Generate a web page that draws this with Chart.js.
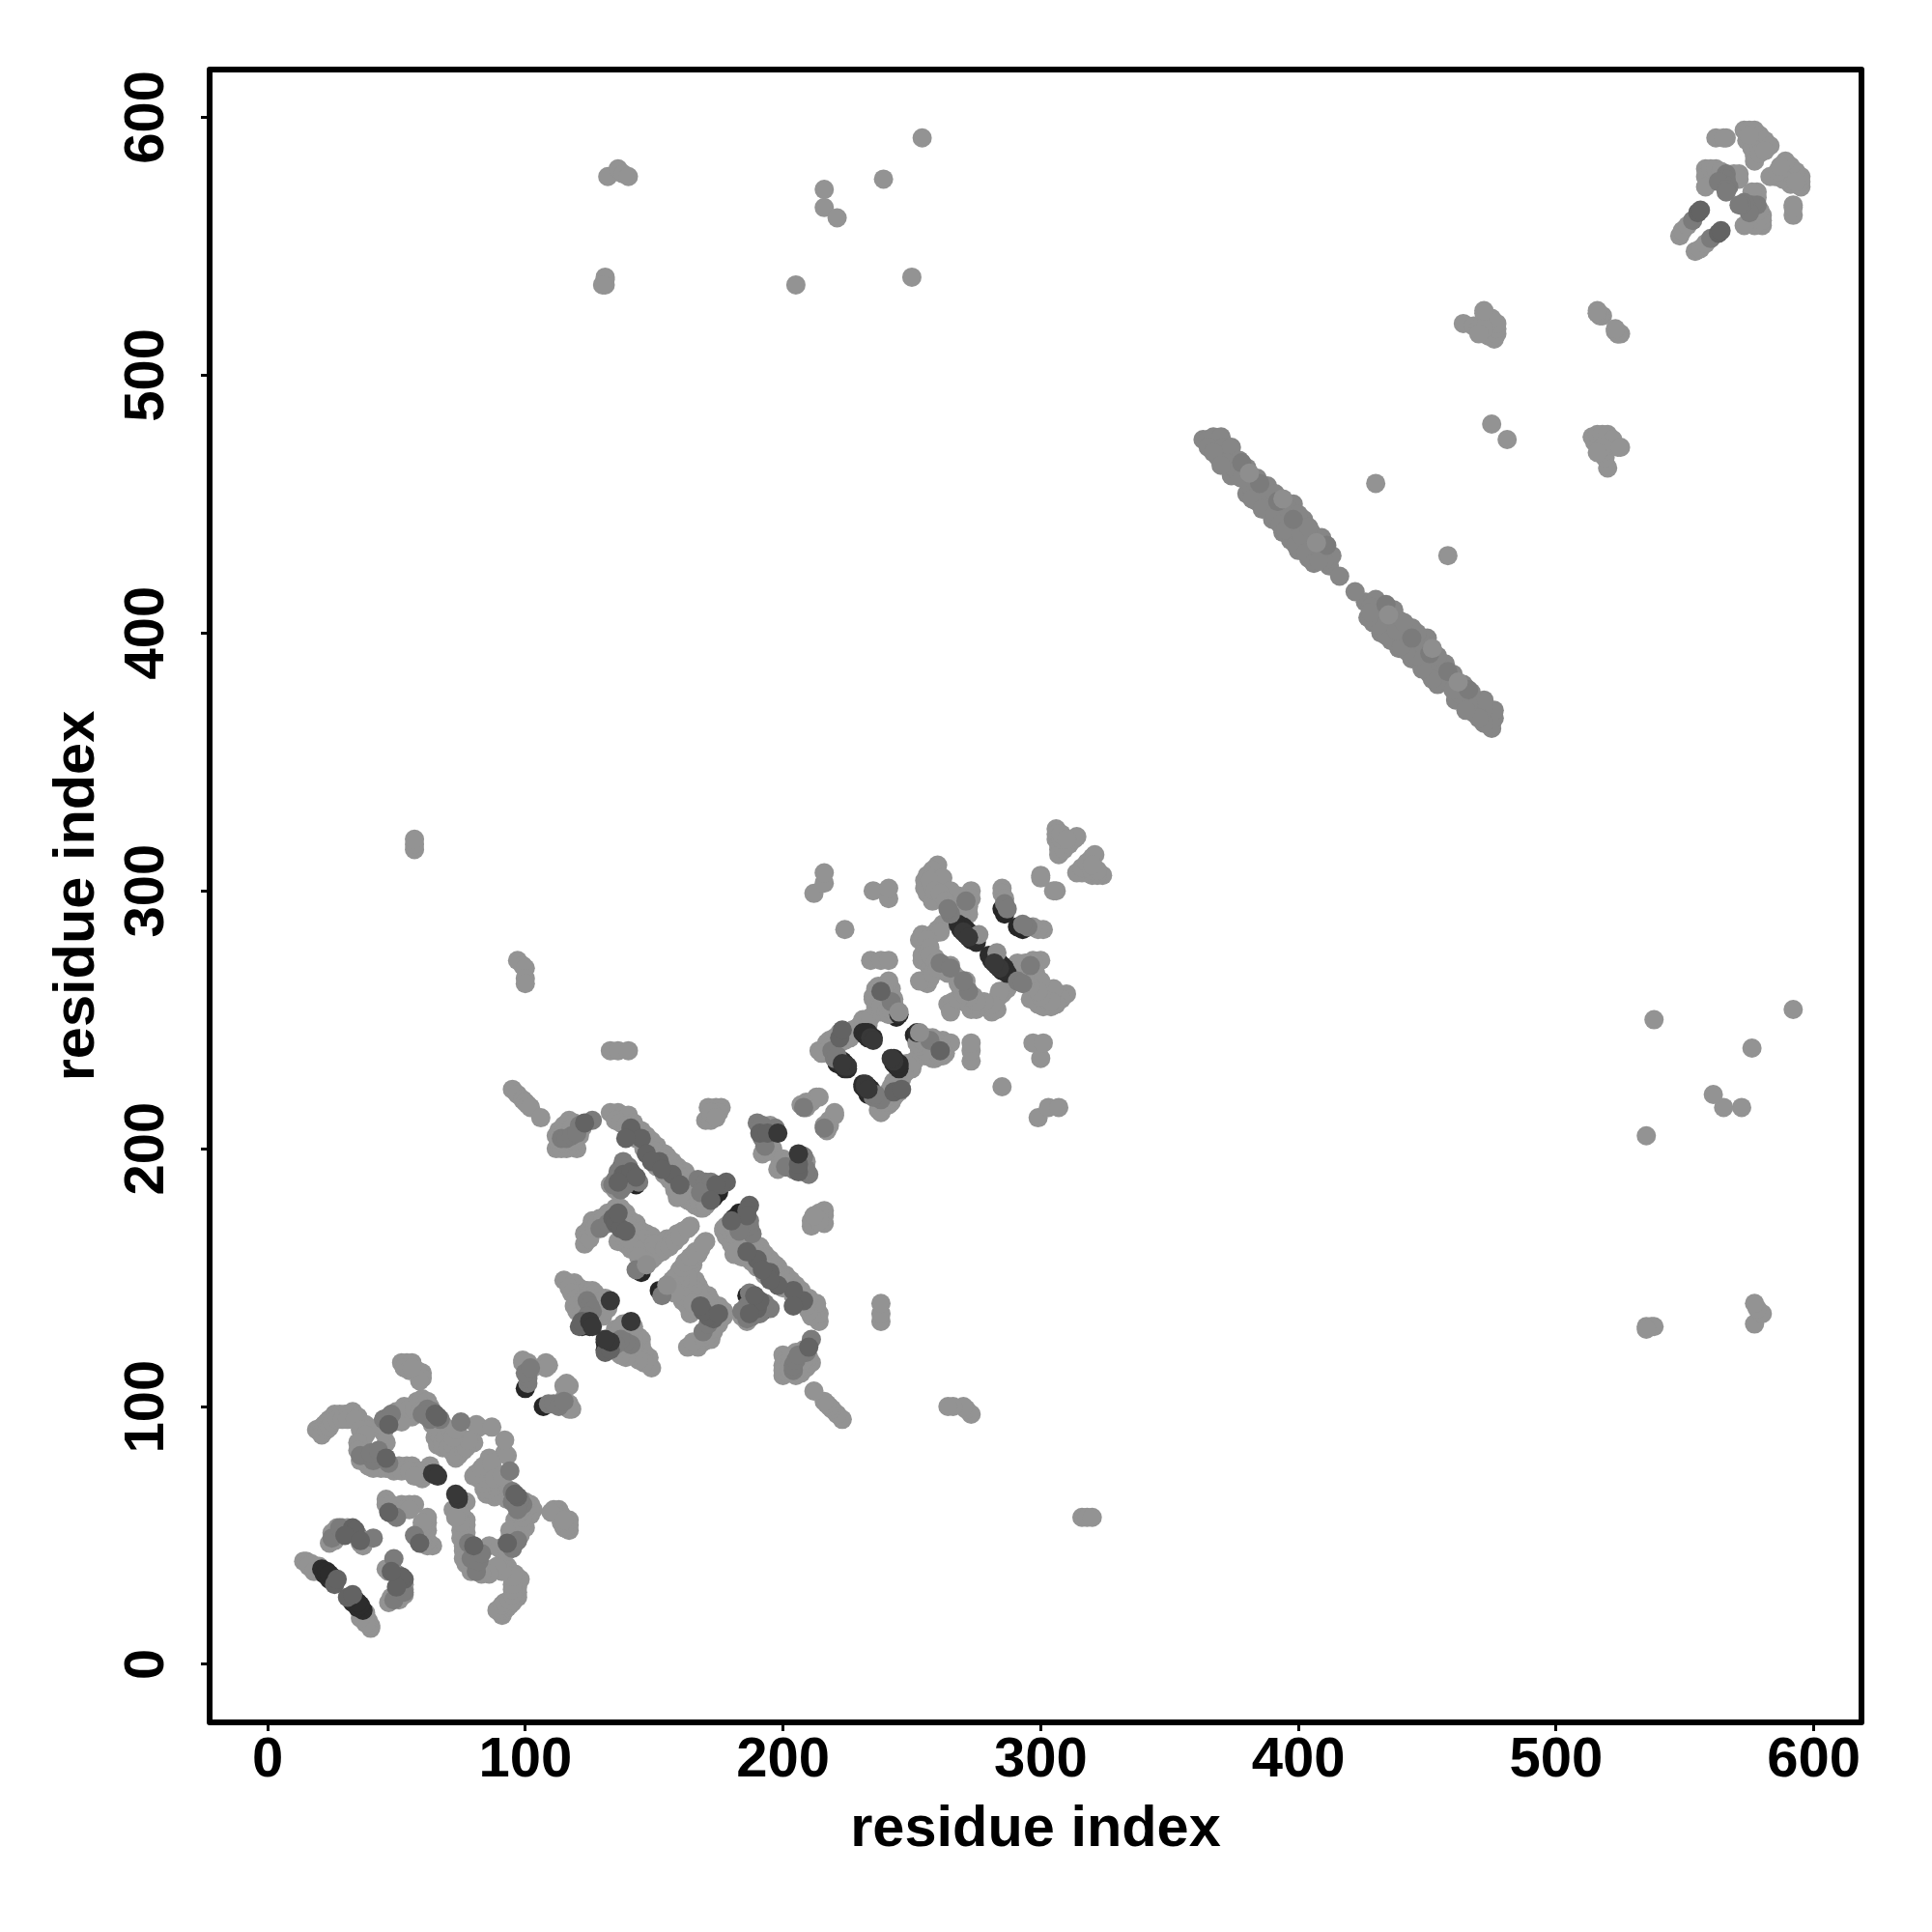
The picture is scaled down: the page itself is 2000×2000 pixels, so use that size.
<!DOCTYPE html>
<html><head><meta charset="utf-8">
<style>html,body{margin:0;padding:0;background:#fff}canvas{display:block}</style>
<script src="https://cdn.jsdelivr.net/npm/chart.js@4"></script></head>
<body><canvas id="c" width="2000" height="2000"></canvas>
<script>
const axisTicks=[0,100,200,300,400,500,600];
const axisTitle="residue index";
// Contacts as [i,j] with i<j. The map is symmetric, so each is drawn at (i,j) and (j,i).
const contactsDarkUnder=[[33,51],[35,50],[100,107],[122,131],[125,131],[145,152],[172,184],[173,185],[172,182],[173,181],[175,183],[192,205],[193,203],[193,201],[221,233],[243,252],[244,251],[285,293],[286,291],[140,190],[137,192],[143,186]];
const contactsLight=[[14,40],[15,40],[16,39],[17,39],[18,38],[19,38],[20,38],[16,38],[18,36],[24,47],[25,51],[27,53],[29,53],[31,53],[32,52],[35,50],[37,48],[37,46],[36,47],[26,50],[27,51],[30,51],[26,48],[28,50],
[46,64],[46,62],[47,60],[48,62],[50,61],[52,62],[55,62],[57,62],[49,58],[51,59],[48,60],[53,60],[55,60],
[19,91],[20,91],[21,92],[22,93],[23,94],[24,95],[26,97],[28,97],[30,97],[33,98],[35,96],[36,94],[38,93],[39,91],[37,88],[37,85],[37,83],[38,81],[40,79],[42,77],[44,76],[46,76],[48,77],[51,77],[54,77],[56,77],[58,75],[60,74],[46,86],[50,98],[51,95],[54,97],[56,96],[58,102],[60,103],[62,102],[63,100],[68,93],[69,91],[70,90],[65,88],[66,85],[68,84],[71,86],[72,82],[74,83],[75,85],[73,80],[81,93],[82,92],[87,92],[80,86],[75,88],[63,77],[60,72],[62,74],[59,75],
[21,89],[23,91],[24,92],[25,94],[27,95],[29,95],[31,95],[34,95],[36,91],[38,89],[35,86],[36,79],[35,83],[39,77],[41,76],[43,78],[45,78],[49,75],[52,75],[55,75],[57,73],[45,90],[44,93],[47,96],[49,94],[52,94],[53,100],[55,99],[57,99],[59,98],[61,99],[62,96],[64,93],[65,92],[66,90],[67,88],[68,86],[69,88],[71,91],[70,84],[72,85],[74,81],[76,83],[77,85],[77,84],[78,87],[72,88],[73,91],
[52,117],[54,117],[56,117],[53,115],[55,114],[58,114],[60,113],[60,111],[59,110],[56,115],
[99,117],[100,117],[101,117],[103,115],[108,117],[108,115],[109,116],[99,118],
[95,223],[97,221],[99,219],[100,218],[101,217],[102,216],[106,212],
[112,200],[113,202],[112,205],[113,207],[115,209],[117,211],[119,210],[120,200],[118,201],[116,200],[121,205],[114,200],[115,202],[117,203],[119,203],[115,206],[118,208],[122,208],
[133,214],[136,214],[138,213],[140,213],[142,210],[143,208],[145,207],[147,205],[149,203],[151,201],[152,199],[154,198],[155,197],[157,195],[159,193],[160,192],[162,191],[163,189],[165,187],[167,185],[141,206],[143,204],[146,200],[148,199],[150,196],[151,193],[154,190],[156,188],[158,184],[159,181],[161,183],[163,180],[165,179],[166,178],[168,177],[162,185],[164,183],[169,177],[167,180],[170,178],[135,184],[133,186],
[135,211],[137,210],[139,209],[140,207],[142,205],[144,206],[146,203],[147,201],[149,200],[150,199],[152,197],[153,196],[155,193],[156,194],[158,192],[160,189],[161,187],[163,186],[165,184],[166,182],[167,183],[169,181],[157,187],[159,185],[160,182],
[123,163],[123,167],[125,169],[126,172],[129,173],[132,175],[135,177],[137,177],[139,175],[141,172],[143,171],[145,168],[147,167],[149,166],[139,163],[136,164],[142,165],[144,164],[146,162],[148,160],[151,161],[153,163],[155,165],[157,165],[159,167],[161,168],[164,170],[147,155],[149,157],[151,159],[153,160],
[125,165],[127,169],[128,171],[130,172],[133,172],[136,172],[138,172],[140,170],[142,168],[144,167],[146,165],[148,163],[150,163],[145,159],[147,158],[149,160],[150,158],[154,161],[156,162],[158,164],[160,166],[163,169],[141,161],[143,161],[138,166],[140,165],[146,155],[146,157],[144,158],
[115,149],[119,148],[121,146],[122,144],[124,145],[126,145],[127,144],[121,141],[122,139],[121,136],[128,141],[129,139],[126,142],[127,136],[130,135],[128,137],[130,141],[131,142],[132,138],[130,137],[126,136],[117,146],[118,144],[120,142],[123,142],[119,139],[120,137],[122,136],
[171,216],[174,216],[176,216],[170,211],[172,211],[175,214],[173,213],[172,214],[174,212],[133,238],[136,238],[140,238],
[195,209],[192,198],[193,199],[195,199],[196,200],[195,202],
[207,217],[209,218],[211,218],[213,220],[214,220],[209,216],
[214,238],[216,239],[217,241],[218,242],[220,243],[222,245],[224,245],[226,243],[230,248],[231,250],[232,247],[229,245],[215,237],[218,239],[220,240],[222,241],[224,242],[227,246],[229,247],[231,247],[233,248],
[235,259],[236,262],[237,263],[240,263],[241,264],[242,262],[238,257],[240,258],[241,260],[243,258],[239,259],[234,251],[236,255],[240,255],[241,265],[235,258],[230,245],[238,253],[236,258],[237,260],[239,262],[238,255],[240,253],[241,252],[242,254],[243,256],
[260,310],[258,308],[256,306],[255,304],[255,301],[256,299],[258,302],[260,304],[262,301],[264,298],[266,296],[268,294],[270,292],[273,300],[273,297],[272,294],[272,291],[266,291],[267,288],[268,290],[254,283],[253,281],[255,279],[254,275],[254,273],[256,272],[257,270],[256,264],[257,266],[259,274],[263,271],[265,271],[266,268],[258,283],[260,285],[262,287],[261,284],[254,282],[253,265],[262,305],[268,298],[265,300],[258,296],[285,301],[285,299],[286,297],
[257,304],[259,300],[261,299],[263,296],[265,294],[267,293],[269,290],[256,281],[257,278],[257,275],[259,272],[262,269],[258,268],[260,270],[264,268],
[306,324],[306,322],[306,320],[307,318],[307,316],[307,314],[309,316],[311,318],[313,320],[314,321],[300,306],[300,305],[308,320],[308,322],[310,320],
[212,299],[216,303],[216,307],[224,285],[235,300],[241,297],[241,301],[234,273],[238,273],[241,273],[57,316],[57,318],[57,320],[97,273],[99,271],[100,270],[100,266],[100,264],
[131,535],[131,537],[131,538],[130,535],[205,535],[250,538],[132,577],[136,580],[138,578],[140,577],[216,572],[216,565],[221,561],[239,576],[254,592],
[464,520],[468,519],[470,518],[472,524],[473,520],[474,515],[476,514],[477,516],[477,518],[477,520],[475,522],[472,518],[470,516],[472,525],[516,524],[518,523],[523,517],[524,516],[525,516],[430,458],[475,481],
[562,592],[566,592],[573,595],[575,595],[577,595],[579,593],[581,591],[583,589],[574,591],[576,588],[577,585],[577,583],[579,586],[581,587],[558,580],[558,577],[558,573],[560,580],[562,580],[564,579],[569,578],[571,578],[571,576],[548,554],[549,556],[551,558],[565,592],[575,593]];
const contactsBand=[[363,475],[365,475],[367,476],[370,476],[365,472],[369,468],[371,472],[374,472],[377,467],[374,461],[375,464],[380,464],[380,454],[379,460],[384,460],[384,451],[382,456],[388,457],[386,454],[391,454],[390,444],[389,448],[394,450],[398,450],[397,446],[394,439],[392,444],[397,436],[399,441],[402,444],[405,439],[400,432],[404,429],[403,435],[409,437],[407,431],[412,426],[413,430],[410,428],[416,422],
[372,466],[376,463],[378,460],[382,452],[386,448],[391,446],[393,442],[395,440],[399,434],[401,438],[403,431],[406,427],[408,428],[396,448],[400,446],[404,441],[367,470],[370,465]];
const contactsDarkMain=[[21,37],[22,36],[23,35],[24,34],[25,33],[22,35],[23,36],[24,33],[25,34],[26,33],[24,35],[26,32],[222,233],[223,232],[224,231],[222,234],[223,234],[224,233],[225,231],[231,245],[232,244],[233,243],[232,245],[233,245],[235,243],[245,252],[268,287],[269,286],[270,285],[271,284],[272,283],[273,282],[274,281],[275,280],[270,286],[271,285],[272,284],[273,283],[274,282],[269,285],[271,283],[273,281]];
const contactsMid=[[41,49],[25,49],[28,53],[50,57],[36,81],[41,79],[40,82],[45,95],[48,97],[67,95],[75,94],[47,78],[62,99],[64,98],[63,95],[60,97],[43,83],[101,109],[101,111],[100,113],[102,115],[114,204],[116,204],[118,205],[121,209],[126,211],[120,206],[136,191],[138,195],[140,193],[141,189],[144,187],[139,186],[137,184],[135,188],[134,186],[167,188],[170,187],[172,187],[168,183],[129,169],[132,171],[143,153],[124,141],[125,139],[126,137],[124,135],[190,210],[191,208],[192,209],[192,204],[193,201],[197,208],[219,238],[220,235],[221,236],[242,257],[208,216],[265,291],[264,293],[271,296],[261,272],[265,270],[286,295],[287,293],[553,560],[566,578],[566,576],[565,574],[563,575],[567,573],[566,572],[566,571],[392,451],[385,458],[398,444],[411,434],[378,466]];
const contactsMidDark=[[26,31],[27,33],[33,53],[34,52],[30,50],[36,48],[47,59],[46,80],[47,93],[65,97],[66,96],[121,131],[122,133],[123,210],[141,208],[145,204],[152,195],[157,190],[139,204],[147,198],[149,195],[153,192],[160,186],[178,187],[176,186],[174,186],[172,180],[138,190],[141,191],[143,189],[136,187],[134,173],[135,171],[137,169],[139,168],[136,175],[191,206],[194,206],[222,243],[223,246],[238,261],[555,563],[556,564]];
const contactsLightTop=[[245,253],[276,283],[147,155],[394,452],[381,462],[407,435]];
const contactsDarkTop=[[64,74],[65,74],[66,73],[125,133],[126,131],[133,141],[198,206],[224,232],[225,232],[223,233],[234,243],[235,242],[270,284],[272,282]];

const tiers=[
 [contactsDarkUnder,"#262626"],
 [contactsBand,"#868686"],
 [contactsLight,"#939393"],
 [contactsDarkMain,"#2c2c2c"],
 [contactsMid,"#7b7b7b"],
 [contactsMidDark,"#636363"],
 [contactsLightTop,"#8e8e8e"],
 [contactsDarkTop,"#383838"]
];
const frameBox={id:"frameBox",afterDatasetsDraw(ch){
  const a=ch.chartArea,g=ch.ctx;g.save();g.strokeStyle="#000";g.lineWidth=6;g.lineJoin="round";
  g.strokeRect(a.left,a.top,a.width,a.height);g.restore();}};
const FONT={family:"'Liberation Sans',Arial,sans-serif",weight:"bold",size:58};
const TITLE_FONT={family:"'Liberation Sans',Arial,sans-serif",weight:"bold",size:59.5};
function axis(isX){return {
  type:"linear",min:-22.5,max:618.5,
  afterBuildTicks:s=>{s.ticks=axisTicks.map(v=>({value:v}));},
  afterFit:s=>{if(isX)s.height=217;else s.width=217;},
  grid:{drawOnChartArea:false,drawTicks:true,tickLength:9,tickWidth:3,tickColor:"#000"},
  border:{display:false},
  ticks:Object.assign({color:"#000",font:FONT,padding:isX?-4:7},isX?{maxRotation:0,minRotation:0}:{minRotation:90,maxRotation:90,crossAlign:"center"},{callback:v=>String(v),autoSkip:false}),
  title:{display:true,text:axisTitle,color:"#000",font:TITLE_FONT,padding:isX?{top:0,bottom:70}:{top:45,bottom:0}}
};}
new Chart(document.getElementById("c"),{
  type:"scatter",
  data:{datasets:tiers.map(([pairs,col],k)=>({
    label:"tier"+k,
    data:pairs.map(p=>({x:p[0],y:p[1]})).concat(pairs.map(p=>({x:p[1],y:p[0]}))),
    backgroundColor:col,borderWidth:0,pointRadius:10,pointHoverRadius:10,order:tiers.length-k
  }))},
  options:{responsive:false,animation:false,events:[],
    layout:{padding:{left:0,top:72,right:73,bottom:0}},
    plugins:{legend:{display:false},tooltip:{enabled:false}},
    scales:{x:axis(true),y:axis(false)}},
  plugins:[frameBox]
});
</script></body></html>
